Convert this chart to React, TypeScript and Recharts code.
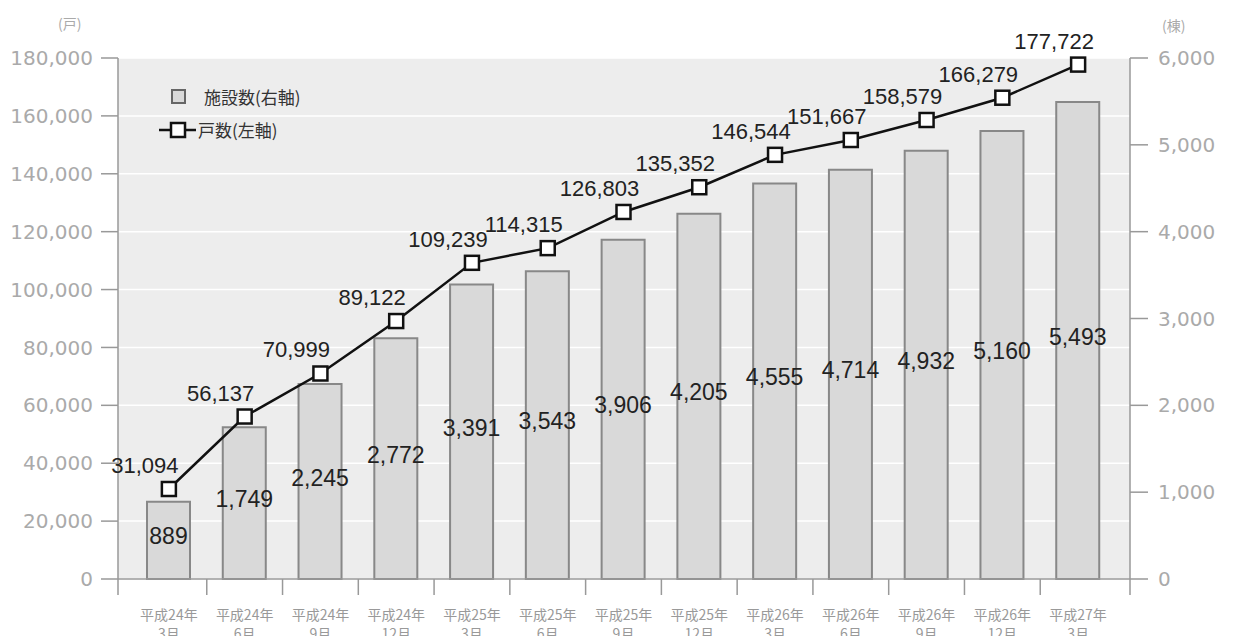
import { ComposedChart, Bar, Line, XAxis, YAxis, CartesianGrid, LabelList } from "recharts";

const periods = [
  ["平成24年", "3月"],
  ["平成24年", "6月"],
  ["平成24年", "9月"],
  ["平成24年", "12月"],
  ["平成25年", "3月"],
  ["平成25年", "6月"],
  ["平成25年", "9月"],
  ["平成25年", "12月"],
  ["平成26年", "3月"],
  ["平成26年", "6月"],
  ["平成26年", "9月"],
  ["平成26年", "12月"],
  ["平成27年", "3月"],
];

// 施設数 (棟, right axis)
const facilities = [889, 1749, 2245, 2772, 3391, 3543, 3906, 4205, 4555, 4714, 4932, 5160, 5493];
// 戸数 (戸, left axis)
const units = [31094, 56137, 70999, 89122, 109239, 114315, 126803, 135352, 146544, 151667, 158579, 166279, 177722];

const leftTicks = [0, 20000, 40000, 60000, 80000, 100000, 120000, 140000, 160000, 180000];
const rightTicks = [0, 1000, 2000, 3000, 4000, 5000, 6000];

const data = periods.map((p, i) => ({
  key: p.join(" "),
  year: p[0],
  month: p[1],
  facilities: facilities[i],
  units: units[i],
}));

const W = 1233;
const H = 644;
const PLOT_LEFT = 118;
const PLOT_RIGHT = 1130;
const PAD_L = 13;
const PAD_R = 14;
const BAND = (PLOT_RIGHT - PLOT_LEFT - PAD_L - PAD_R) / periods.length;

const valueFont = "'Liberation Sans', Arial, sans-serif";
const axisFont = "'DejaVu Sans', sans-serif";
const jpFont = "'Noto Sans CJK JP', sans-serif";
const fmt = (v: number) => v.toLocaleString("en-US");

function XTick({ x, y, index }: any) {
  const d = data[index] || { year: "", month: "" };
  const left = index === 0 ? x - BAND / 2 - PAD_L : x - BAND / 2;
  return (
    <g>
      <line x1={left} x2={left} y1={y} y2={y + 16} stroke="#999" strokeWidth={1.5} />
      {index === data.length - 1 && (
        <line x1={x + BAND / 2 + PAD_R} x2={x + BAND / 2 + PAD_R} y1={y} y2={y + 16} stroke="#999" strokeWidth={1.5} />
      )}
      <text x={x} y={y + 41} textAnchor="middle" fontSize={14} fill="#999" fontFamily={jpFont}>
        {d.year}
      </text>
      <text x={x} y={y + 60} textAnchor="middle" fontSize={14} fill="#999" fontFamily={jpFont}>
        {d.month}
      </text>
    </g>
  );
}

function SquareDot({ cx, cy }: any) {
  if (cx == null || cy == null) return null;
  return <rect x={cx - 7} y={cy - 7} width={14} height={14} fill="#fff" stroke="#111" strokeWidth={2.5} />;
}

function LineValue({ x, y, value }: any) {
  return (
    <text x={x - 24} y={y - 16} textAnchor="middle" fontSize={22} fill="#222" fontFamily={valueFont}>
      {fmt(value)}
    </text>
  );
}

function BarValue({ x, y, width, height, value }: any) {
  return (
    <text x={x + width / 2} y={y + height / 2 + 4} textAnchor="middle" fontSize={23} fill="#222" fontFamily={valueFont}>
      {fmt(value)}
    </text>
  );
}

function LegendBox() {
  return (
    <div style={{ position: "absolute", left: 156, top: 80, fontFamily: jpFont, fontSize: 17, color: "#333", lineHeight: "33px" }}>
      <div style={{ display: "flex", alignItems: "center" }}>
        <svg width={42} height={20}>
          <rect x={16} y={3} width={13} height={13} fill="#d9d9d9" stroke="#666" strokeWidth={2} />
        </svg>
        <span style={{ marginLeft: 6 }}>施設数(右軸)</span>
      </div>
      <div style={{ display: "flex", alignItems: "center" }}>
        <svg width={42} height={20}>
          <line x1={3} x2={40} y1={10} y2={10} stroke="#111" strokeWidth={2.5} />
          <rect x={15} y={3} width={14} height={14} fill="#fff" stroke="#111" strokeWidth={2.5} />
        </svg>
        <span>戸数(左軸)</span>
      </div>
    </div>
  );
}

export default function App() {
  return (
    <div style={{ position: "relative", width: W, height: H, margin: -8, background: "#fff" }}>
      <ComposedChart width={W} height={H} data={data} margin={{ top: 58, right: 0, bottom: 0, left: 0 }}>
        <CartesianGrid yAxisId="left" vertical={false} stroke="#fff" strokeWidth={1.5} fill="#ededed" />
        <XAxis
          dataKey="key"
          height={65}
          padding={{ left: PAD_L, right: PAD_R }}
          tickLine={false}
          tickSize={0}
          tickMargin={0}
          interval={0}
          axisLine={{ stroke: "#999", strokeWidth: 1.5 }}
          tick={<XTick />}
        />
        <YAxis
          yAxisId="left"
          width={PLOT_LEFT}
          domain={[0, 180000]}
          ticks={leftTicks}
          tickFormatter={fmt}
          tickSize={17}
          tickMargin={8}
          axisLine={{ stroke: "#999", strokeWidth: 1.5 }}
          tickLine={{ stroke: "#999", strokeWidth: 1.5 }}
          tick={{ fill: "#aaa", fontSize: 20, fontFamily: axisFont }}
        />
        <YAxis
          yAxisId="right"
          orientation="right"
          width={W - PLOT_RIGHT}
          domain={[0, 6000]}
          ticks={rightTicks}
          tickFormatter={fmt}
          tickSize={18}
          tickMargin={10}
          axisLine={{ stroke: "#999", strokeWidth: 1.5 }}
          tickLine={{ stroke: "#999", strokeWidth: 1.5 }}
          tick={{ fill: "#aaa", fontSize: 20, fontFamily: axisFont }}
        />
        <Bar yAxisId="right" dataKey="facilities" barSize={43} fill="#d9d9d9" stroke="#888" strokeWidth={2} isAnimationActive={false}>
          <LabelList dataKey="facilities" content={<BarValue />} />
        </Bar>
        <Line
          yAxisId="left"
          dataKey="units"
          stroke="#111"
          strokeWidth={2.5}
          dot={<SquareDot />}
          activeDot={false}
          isAnimationActive={false}
        >
          <LabelList dataKey="units" content={<LineValue />} />
        </Line>
      </ComposedChart>
      <div style={{ position: "absolute", left: 58, top: 13, fontSize: 14, color: "#aaa", fontFamily: jpFont }}>(戸)</div>
      <div style={{ position: "absolute", left: 1162, top: 15, fontSize: 14, color: "#aaa", fontFamily: jpFont }}>(棟)</div>
      <LegendBox />
    </div>
  );
}
